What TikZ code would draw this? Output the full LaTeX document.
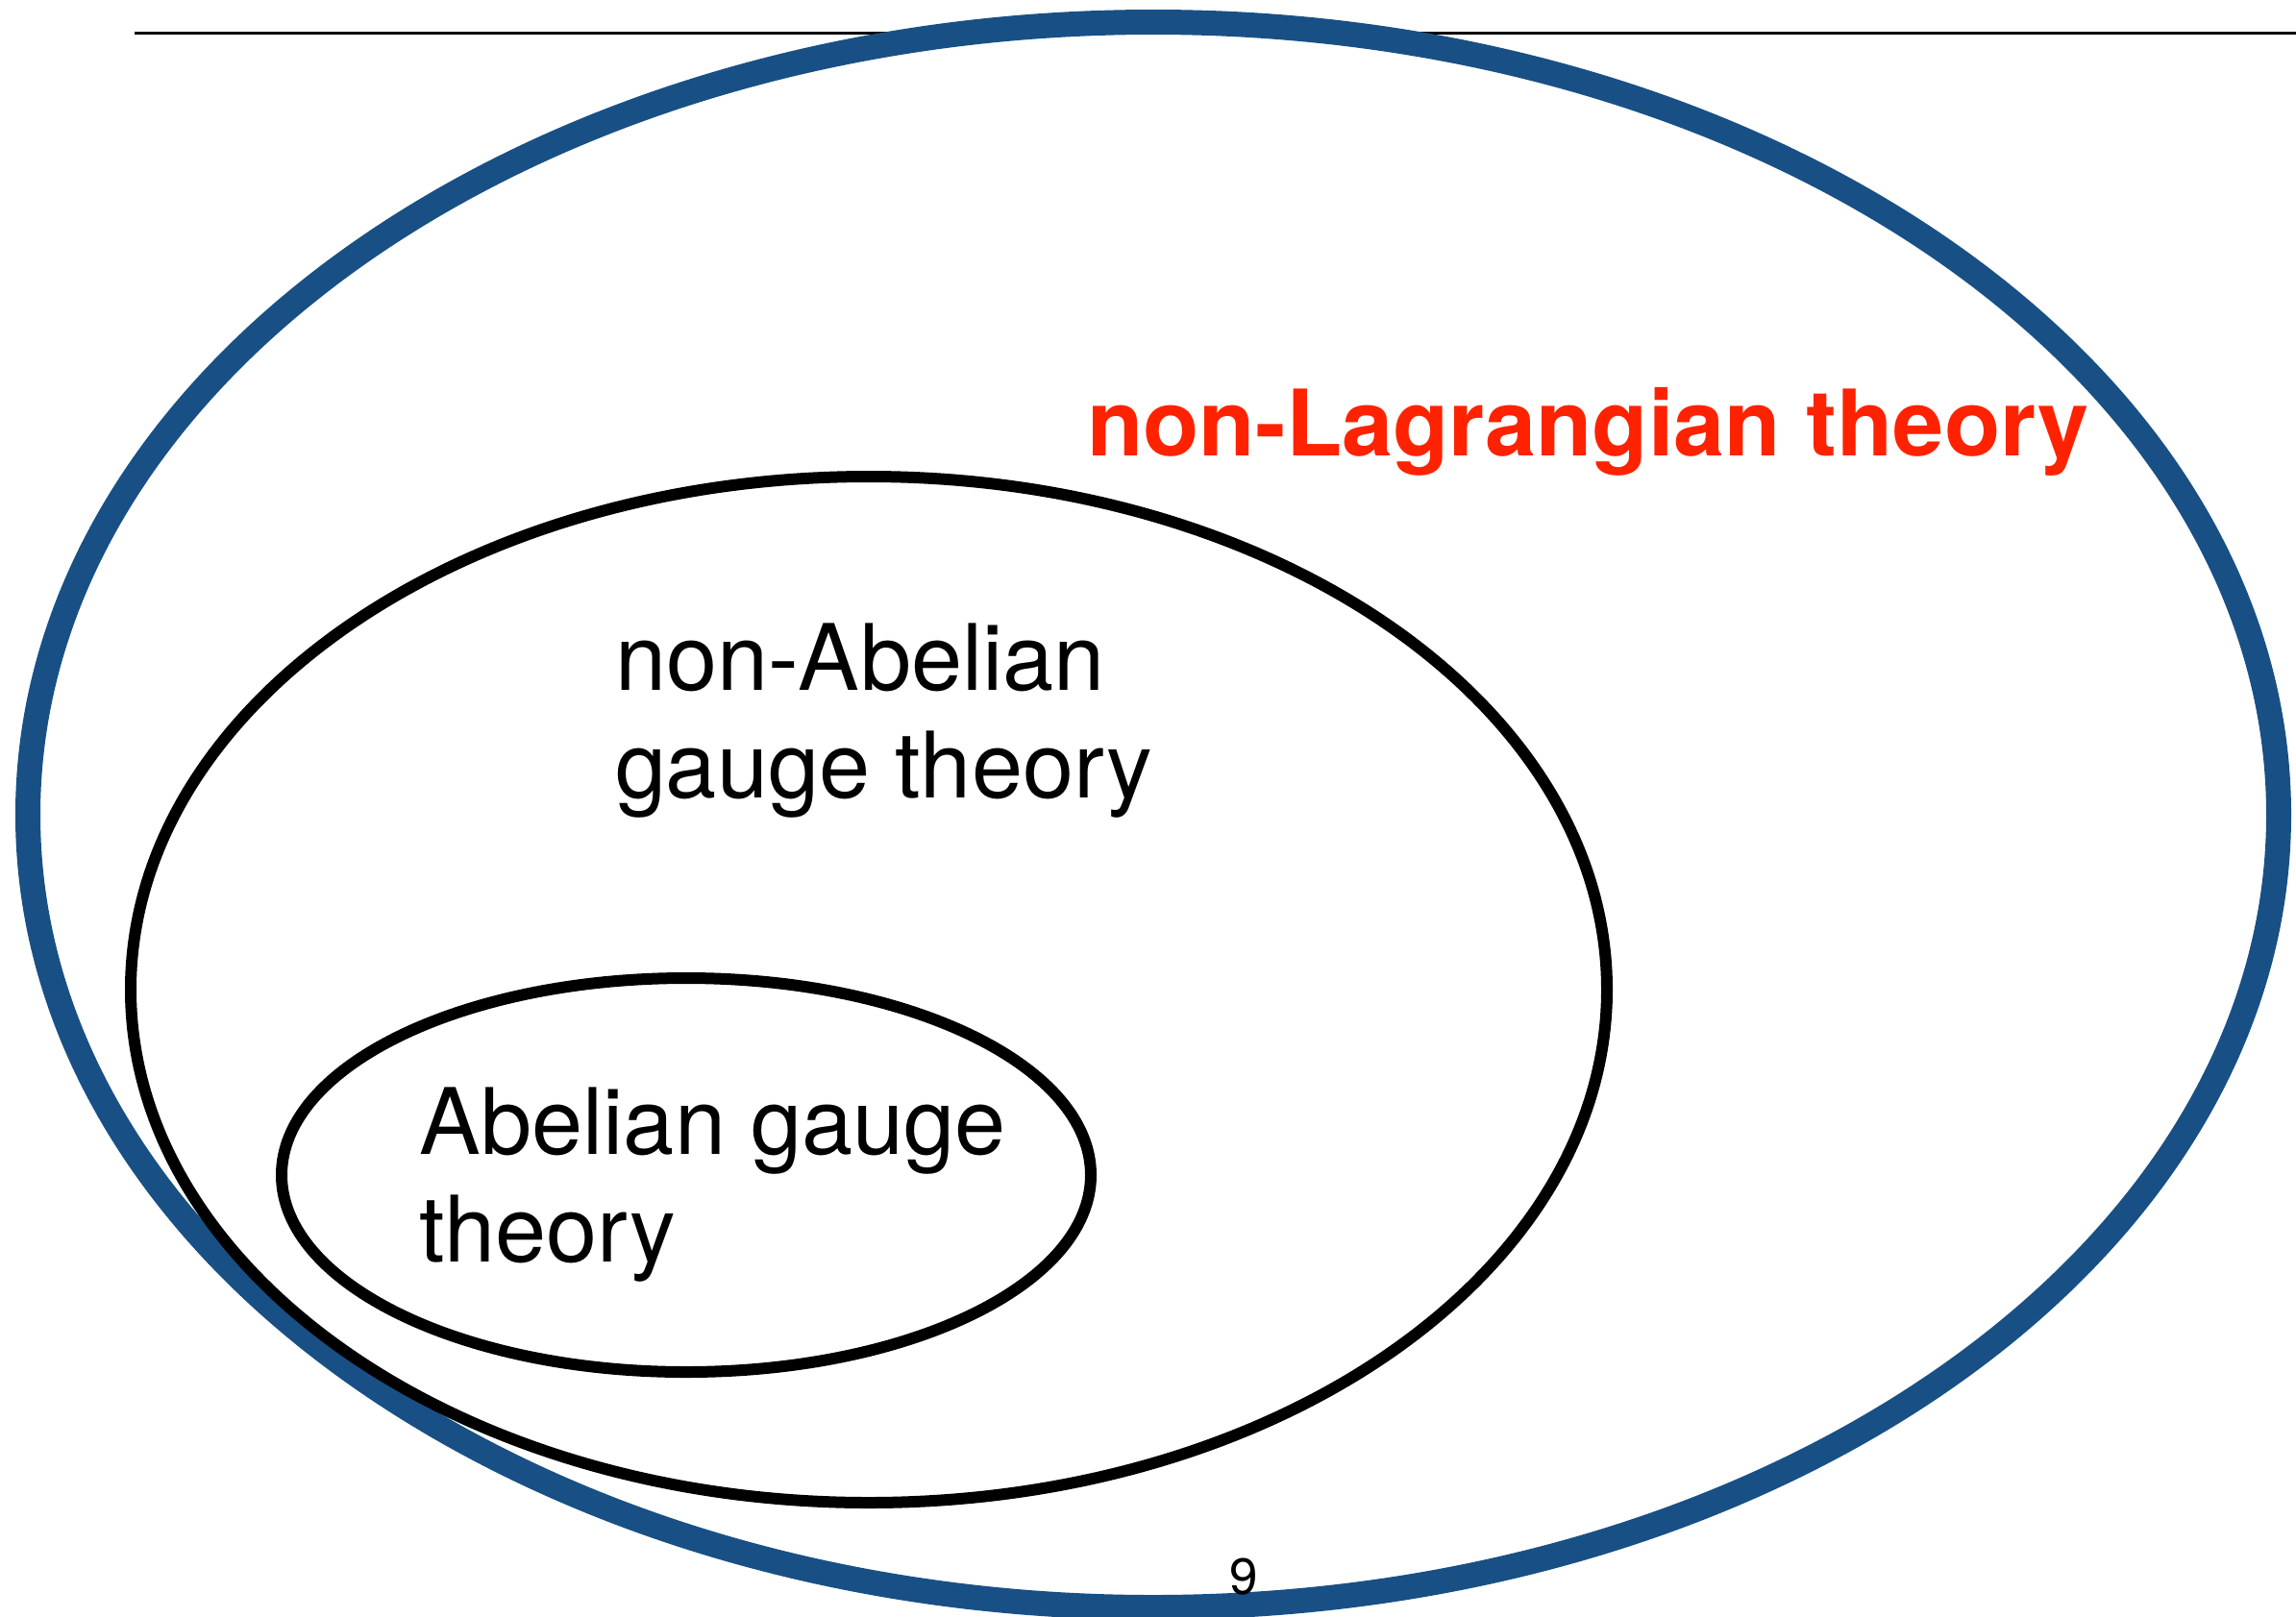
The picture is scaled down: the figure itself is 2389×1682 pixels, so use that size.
\documentclass[tikz,border=0pt]{standalone}
\usepackage{fontspec}
\setmainfont{TeX Gyre Heros}
\definecolor{outerblue}{RGB}{24,80,133}
\definecolor{labelred}{RGB}{255,34,0}
\tikzset{
  outerset/.style={draw=outerblue, line width=26pt},
  innerset/.style={draw=black, line width=12pt},
  setlabel/.style={inner sep=0pt, anchor=base west, align=left, font=\fontsize{95.5}{112}\selectfont},
}
\begin{document}
\begin{tikzpicture}[x=1pt,y=-1pt]
\useasboundingbox (0,0) rectangle (2389,1682);
% header rule
\coordinate (ruleL) at (140,34.5);
\coordinate (ruleR) at (2389,34.5);
\draw[line width=2.5pt] (ruleL) -- (ruleR);
% sets
\draw[outerset] (1200,848) ellipse [x radius=1171, y radius=825];
\draw[innerset] (904,1030) ellipse [x radius=768, y radius=534];
\draw[innerset] (714,1223) ellipse [x radius=421, y radius=205];
% labels (base anchor = baseline of the last line)
\node[setlabel, text=labelred, font=\fontsize{95.5}{112}\selectfont\bfseries] (nonlag) at (1131,474) {non-Lagrangian theory};
\node[setlabel] (nonab) at (640,830) {non-Abelian\\gauge theory};
\node[setlabel] (ab) at (436,1313) {Abelian gauge\\theory};
\node[inner sep=0pt, anchor=base west, font=\fontsize{53}{60}\selectfont] (page) at (1279,1659) {9};
\end{tikzpicture}
\end{document}
